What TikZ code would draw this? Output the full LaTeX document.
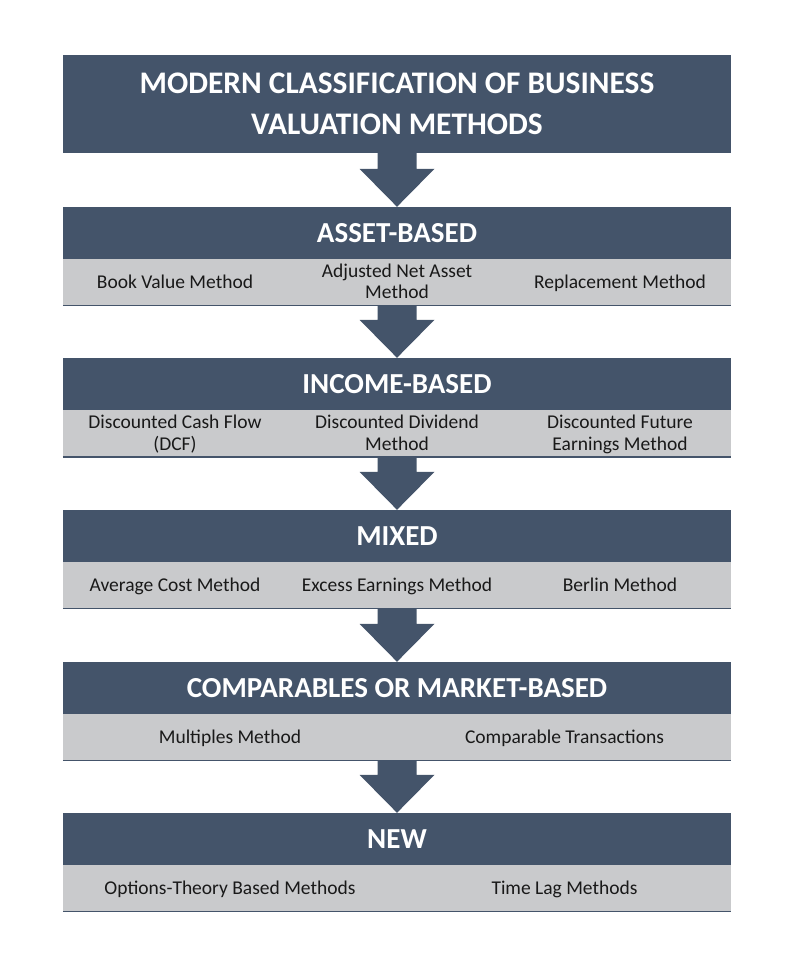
\documentclass[tikz,border=0pt]{standalone}
\usepackage{fontspec}
\setmainfont{Carlito}
\usetikzlibrary{calc}
\definecolor{navy}{HTML}{44546A}
\definecolor{lightgray}{HTML}{C9CACC}
\tikzset{
  titlebox/.style={fill=navy, text=white, font=\bfseries\fontsize{31.4}{41}\selectfont, align=center, minimum width=668pt, minimum height=98pt, inner sep=0pt},
  headbox/.style={fill=navy, text=white, font=\bfseries\fontsize{29}{34}\selectfont, minimum width=668pt, minimum height=52pt, inner sep=0pt},
  graybox/.style={fill=lightgray, minimum width=668pt, minimum height=46.5pt, inner sep=0pt},
  item/.style={font=\fontsize{19.5}{21.5}\selectfont, align=center, text=black!90, inner sep=0pt,
    execute at begin node=\strut, execute at end node=\strut, yshift=-2.5pt},
  baseline line/.style={draw=navy, line width=1.5pt},
}
\newcommand{\blkarrow}[2]{%
  \fill[navy] let \p1=(#1.south), \p2=(#2.north) in
    (\x1-19.5pt,\y1) -- (\x1+19.5pt,\y1) -- (\x1+19.5pt,\y2+38pt) -- (\x1+37.5pt,\y2+38pt)
    -- (\x1,\y2) -- (\x1-37.5pt,\y2+38pt) -- (\x1-19.5pt,\y2+38pt) -- cycle;}
\begin{document}
\begin{tikzpicture}[x=1pt,y=-1pt]
\useasboundingbox (0,0) rectangle (800,956);
\node[titlebox] (title) at (397,104) {MODERN CLASSIFICATION OF BUSINESS\\VALUATION METHODS};
% Asset-based
\node[headbox] (h1) at (397,233) {ASSET-BASED};
\node[graybox] (g1) at (397,282) {};
\draw[baseline line] (g1.south west) -- (g1.south east);
\node[item] (a1) at (175,282) {Book Value Method};
\node[item] (a2) at (397,282) {Adjusted Net Asset\\Method};
\node[item] (a3) at (620,282) {Replacement Method};
% Income-based
\node[headbox] (h2) at (397,384) {INCOME-BASED};
\node[graybox] (g2) at (397,433.5) {};
\draw[baseline line] (g2.south west) -- (g2.south east);
\node[item] (b1) at (175,433.5) {Discounted Cash Flow\\(DCF)};
\node[item] (b2) at (397,433.5) {Discounted Dividend\\Method};
\node[item] (b3) at (620,433.5) {Discounted Future\\Earnings Method};
% Mixed
\node[headbox] (h3) at (397,536) {MIXED};
\node[graybox] (g3) at (397,585) {};
\draw[baseline line] (g3.south west) -- (g3.south east);
\node[item] (c1) at (175,585) {Average Cost Method};
\node[item] (c2) at (397,585) {Excess Earnings Method};
\node[item] (c3) at (620,585) {Berlin Method};
% Comparables
\node[headbox] (h4) at (397,688) {COMPARABLES OR MARKET-BASED};
\node[graybox] (g4) at (397,737) {};
\draw[baseline line] (g4.south west) -- (g4.south east);
\node[item] (d1) at (230,737) {Multiples Method};
\node[item] (d2) at (564.5,737) {Comparable Transactions};
% New
\node[headbox] (h5) at (397,839) {NEW};
\node[graybox] (g5) at (397,888) {};
\draw[baseline line] (g5.south west) -- (g5.south east);
\node[item] (e1) at (230,888) {Options-Theory Based Methods};
\node[item] (e2) at (564.5,888) {Time Lag Methods};
% arrows
\blkarrow{title}{h1}
\blkarrow{g1}{h2}
\blkarrow{g2}{h3}
\blkarrow{g3}{h4}
\blkarrow{g4}{h5}
\end{tikzpicture}
\end{document}
